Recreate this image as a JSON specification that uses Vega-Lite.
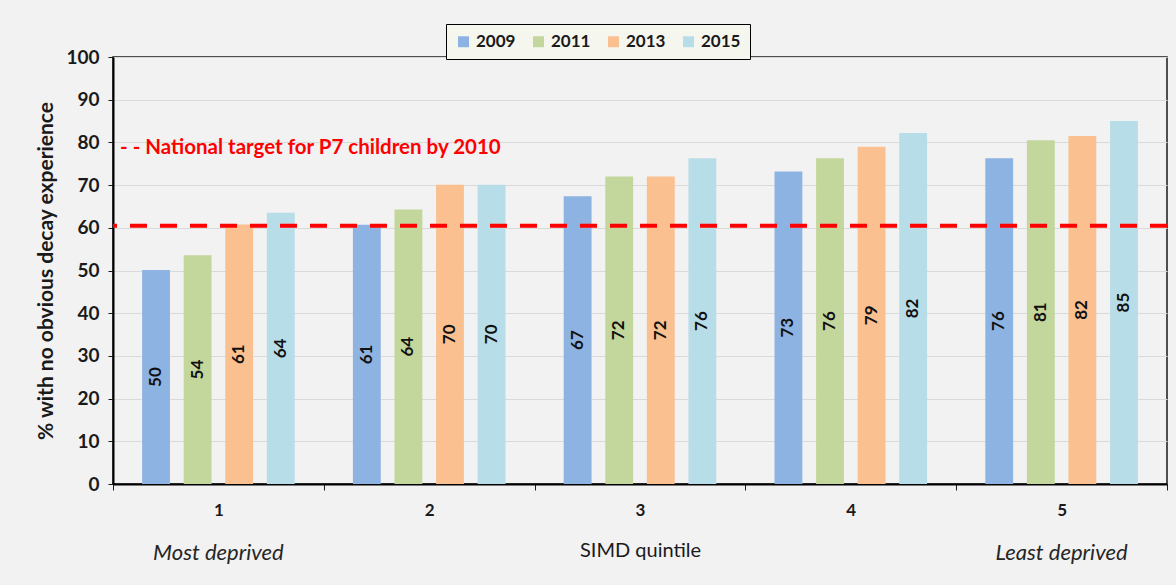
{
  "$schema": "https://vega.github.io/schema/vega-lite/v6.json",
  "width": 1054,
  "height": 427,
  "autosize": {"type": "none"},
  "padding": {"left": 113, "top": 57, "right": 9, "bottom": 101},
  "background": "#f2f2f2",
  "config": {
    "font": "Lato",
    "view": {"stroke": "#1a1a1a", "strokeWidth": 1.5, "fill": "#f2f2f2"}
  },
  "datasets": {
    "bars": [
      {"q": "1", "year": "2009", "value": 50.1, "label": "50"},
      {"q": "1", "year": "2011", "value": 53.6, "label": "54"},
      {"q": "1", "year": "2013", "value": 60.8, "label": "61"},
      {"q": "1", "year": "2015", "value": 63.5, "label": "64"},
      {"q": "2", "year": "2009", "value": 60.7, "label": "61"},
      {"q": "2", "year": "2011", "value": 64.3, "label": "64"},
      {"q": "2", "year": "2013", "value": 70.1, "label": "70"},
      {"q": "2", "year": "2015", "value": 70.1, "label": "70"},
      {"q": "3", "year": "2009", "value": 67.4, "label": "67"},
      {"q": "3", "year": "2011", "value": 72.0, "label": "72"},
      {"q": "3", "year": "2013", "value": 72.0, "label": "72"},
      {"q": "3", "year": "2015", "value": 76.3, "label": "76"},
      {"q": "4", "year": "2009", "value": 73.2, "label": "73"},
      {"q": "4", "year": "2011", "value": 76.3, "label": "76"},
      {"q": "4", "year": "2013", "value": 79.0, "label": "79"},
      {"q": "4", "year": "2015", "value": 82.2, "label": "82"},
      {"q": "5", "year": "2009", "value": 76.3, "label": "76"},
      {"q": "5", "year": "2011", "value": 80.5, "label": "81"},
      {"q": "5", "year": "2013", "value": 81.5, "label": "82"},
      {"q": "5", "year": "2015", "value": 85.0, "label": "85"}
    ],
    "one": [{"k": 1}]
  },
  "layer": [
    {
      "data": {"name": "bars"},
      "mark": {"type": "bar"},
      "encoding": {
        "x": {
          "field": "q",
          "type": "nominal",
          "scale": {"paddingInner": 0, "paddingOuter": 0},
          "axis": {
            "title": "SIMD quintile",
            "titleFontSize": 20,
            "titleFontWeight": "normal",
            "titleColor": "#1a1a1a",
            "titlePadding": 22,
            "labelAngle": 0,
            "labelFontSize": 17,
            "labelFontWeight": "bold",
            "labelColor": "#1a1a1a",
            "labelPadding": 12,
            "tickBand": "extent",
            "tickColor": "#1a1a1a",
            "tickSize": 6,
            "domainColor": "#000000",
            "domainWidth": 2,
            "grid": false
          }
        },
        "xOffset": {
          "field": "year",
          "type": "nominal",
          "scale": {"paddingInner": 0.33, "paddingOuter": 0.7}
        },
        "y": {
          "field": "value",
          "type": "quantitative",
          "scale": {"domain": [0, 100]},
          "axis": {
            "title": "% with no obvious decay experience",
            "titleFontSize": 21,
            "titleFontWeight": "bold",
            "titleColor": "#1a1a1a",
            "titlePadding": 9,
            "values": [0, 10, 20, 30, 40, 50, 60, 70, 80, 90, 100],
            "labelFontSize": 19,
            "labelFontWeight": "bold",
            "labelColor": "#1a1a1a",
            "labelPadding": 9,
            "tickColor": "#1a1a1a",
            "tickSize": 5,
            "domainColor": "#000000",
            "domainWidth": 2,
            "gridColor": "#d9d9d9",
            "gridWidth": 1.2
          }
        },
        "color": {
          "field": "year",
          "type": "nominal",
          "scale": {
            "domain": ["2009", "2011", "2013", "2015"],
            "range": ["#8db3e2", "#c3d69b", "#fac090", "#b7dde8"]
          },
          "legend": {
            "title": null,
            "orient": "none",
            "direction": "horizontal",
            "legendX": 333,
            "legendY": -33,
            "fillColor": "#f5f7ef",
            "strokeColor": "#000000",
            "padding": 9,
            "symbolType": "square",
            "symbolSize": 120,
            "symbolStrokeWidth": 0,
            "symbolOpacity": 1,
            "labelFontSize": 17,
            "labelFontWeight": "bold",
            "labelColor": "#1a1a1a",
            "columnPadding": 14
          }
        }
      }
    },
    {
      "data": {"name": "bars"},
      "mark": {"type": "text", "angle": 270, "align": "center", "baseline": "middle", "fontSize": 17, "fontWeight": "bold", "color": "#111111"},
      "encoding": {
        "x": {"field": "q", "type": "nominal"},
        "xOffset": {"field": "year", "type": "nominal"},
        "y": {"field": "value", "type": "quantitative", "stack": "zero", "bandPosition": 0.5},
        "text": {"field": "label"}
      }
    },
    {
      "data": {"name": "one"},
      "mark": {"type": "rule", "color": "#ff0000", "strokeWidth": 4, "strokeDash": [17, 13]},
      "encoding": {"y": {"datum": 60.5}}
    },
    {
      "data": {"name": "one"},
      "mark": {"type": "text", "align": "left", "baseline": "middle", "dx": 7, "fontSize": 20.5, "fontWeight": "bold", "color": "#ff0000", "text": "- -  National target for P7 children by 2010"},
      "encoding": {
        "x": {"datum": "1", "bandPosition": 0},
        "y": {"datum": 78.6}
      }
    },
    {
      "data": {"name": "one"},
      "mark": {"type": "text", "align": "center", "baseline": "middle", "fontSize": 22, "fontStyle": "italic", "color": "#262626", "text": "Most deprived"},
      "encoding": {
        "x": {"datum": "1"},
        "y": {"datum": -16.2}
      }
    },
    {
      "data": {"name": "one"},
      "mark": {"type": "text", "align": "center", "baseline": "middle", "fontSize": 22, "fontStyle": "italic", "color": "#262626", "text": "Least deprived"},
      "encoding": {
        "x": {"datum": "5"},
        "y": {"datum": -16.2}
      }
    }
  ]
}
